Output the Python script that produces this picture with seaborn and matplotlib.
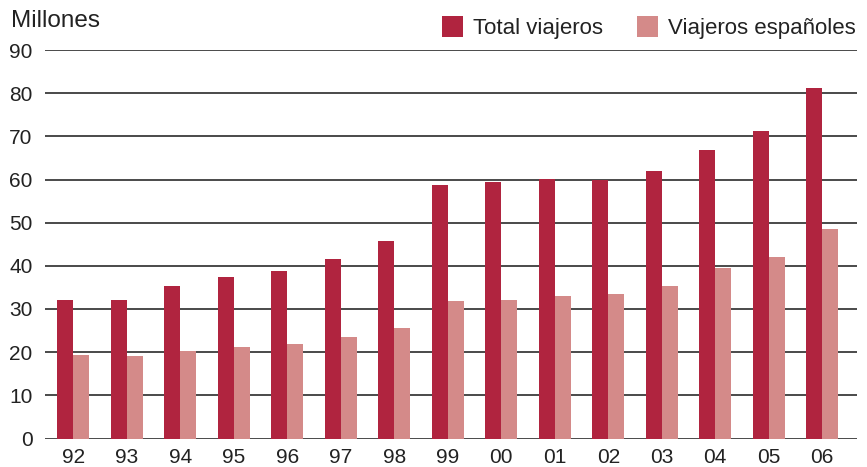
import pandas as pd
import matplotlib.pyplot as plt
import seaborn as sns

## Data
years = ['92', '93', '94', '95', '96', '97', '98', '99', '00', '01', '02', '03', '04', '05', '06']
total = [32.0, 32.2, 35.4, 37.5, 38.9, 41.6, 45.8, 58.8, 59.5, 60.2, 59.9, 62.0, 66.8, 71.2, 81.2]
espanoles = [19.3, 19.0, 20.2, 21.1, 21.8, 23.4, 25.5, 31.8, 32.2, 32.9, 33.4, 35.4, 39.6, 42.1, 48.6]
series = ['Total viajeros', 'Viajeros españoles']

df = pd.DataFrame({
    'year': years * 2,
    'value': total + espanoles,
    'serie': [series[0]] * len(years) + [series[1]] * len(years),
})

sns.set_style('white')
plt.rcParams['font.family'] = ['Liberation Sans', 'DejaVu Sans']
text_color = '#222222'

fig = plt.figure(figsize=(8.67, 4.67), dpi=100)
ax = fig.add_axes([45 / 867, 28.5 / 467, 812 / 867, 388.5 / 467])

sns.barplot(data=df, x='year', y='value', hue='serie', order=years,
            palette=['#B0243F', '#D48A89'], width=0.6, gap=0,
            saturation=1, linewidth=0, ax=ax, zorder=3)

ax.set_ylim(0, 90)
ax.set_xlim(-0.53, 14.65)
ax.set_yticks(range(0, 91, 10))
ax.yaxis.grid(True, color='#4a4a4a', linewidth=1.4, zorder=0)
ax.set_axisbelow(True)
for s in ax.spines.values():
    s.set_visible(False)
ax.tick_params(axis='both', length=0, labelsize=15, colors=text_color)
ax.tick_params(axis='y', pad=9)
ax.tick_params(axis='x', pad=7)
ax.set_xlabel('')
ax.set_ylabel('')

fig.text(11 / 867, 1 - 21 / 467, 'Millones', fontsize=17.5, color=text_color,
         va='center', ha='left')

ax.legend(loc='upper right', bbox_to_anchor=(1.009, 1.11), ncol=2, frameon=False,
          fontsize=16, handlelength=0.95, handleheight=1.1, handletextpad=0.45,
          columnspacing=1.5, labelcolor=text_color, borderaxespad=0)

fig.savefig('out.png', dpi=100)
